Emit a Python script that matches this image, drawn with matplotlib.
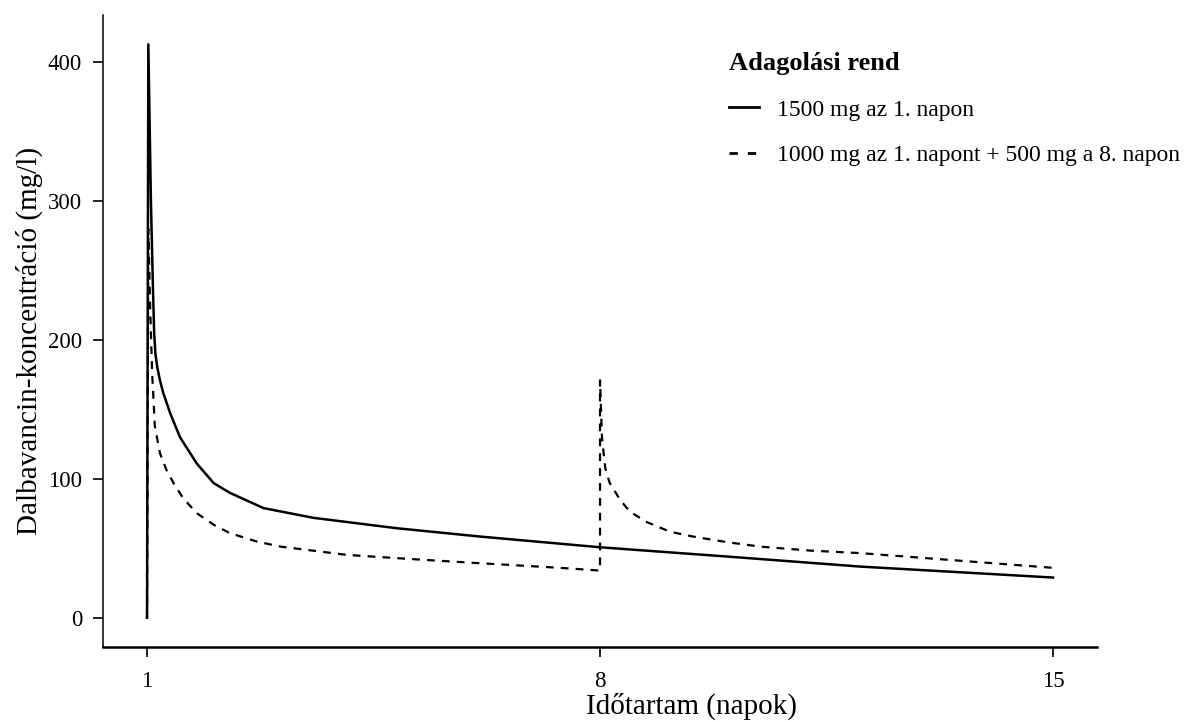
import matplotlib.pyplot as plt
from matplotlib.lines import Line2D

plt.rcParams['font.family'] = ['Liberation Serif', 'DejaVu Serif']

# Solid: 1500 mg on day 1
t_single = [1.0, 1.02, 1.06, 1.09, 1.11, 1.13, 1.16, 1.20, 1.25, 1.36, 1.51, 1.77, 2.03, 2.28,
            2.80, 3.57, 4.86, 6.15, 8.0, 10.0, 12.02, 15.0]
c_single = [0.0, 413.0, 300.0, 240.0, 205.0, 190.0, 180.0, 171.0, 162.0, 147.0, 130.0, 111.0,
            97.0, 90.0, 79.0, 72.0, 64.5, 58.5, 50.8, 44.0, 36.9, 29.0]

# Dashed: 1000 mg on day 1 + 500 mg on day 8
t_split = [1.0, 1.02, 1.05, 1.08, 1.10, 1.12, 1.20, 1.30, 1.41, 1.56, 1.77, 2.03, 2.28, 2.69,
           3.06, 4.09, 5.12, 6.15, 7.38, 7.85, 8.0,
           8.0, 8.03, 8.08, 8.15, 8.31, 8.46, 8.72, 9.08, 9.44, 9.96, 10.47, 11.25, 12.02, 15.0]
c_split = [0.0, 280.0, 220.0, 175.0, 157.0, 138.0, 118.5, 106.5, 97.0, 86.0, 75.3, 67.0, 61.0, 55.0,
           51.3, 45.3, 42.2, 39.3, 36.0, 34.5, 34.0,
           171.0, 130.0, 108.0, 97.0, 85.0, 76.5, 69.0, 62.0, 58.5, 54.5, 51.3, 48.4, 46.6, 36.0]

x_ticks = [1, 8, 15]
y_ticks = [0, 100, 200, 300, 400]

label_single = '1500 mg az 1. napon'
label_split = '1000 mg az 1. napont + 500 mg a 8. napon'

fig = plt.figure(figsize=(11.87, 7.22), dpi=100)
ax = fig.add_axes([0.0868, 0.1039, 0.8374, 0.8752])

ax.plot(t_single, c_single, color='black', linewidth=1.8, linestyle='-')
ax.plot(t_split, c_split, color='black', linewidth=1.6, linestyle=(0, (3.5, 3.2)))

ax.set_xlim(0.32, 15.68)
ax.set_ylim(-21, 434)
ax.set_xticks(x_ticks)
ax.set_yticks(y_ticks)
ax.tick_params(axis='both', labelsize=16.5, length=7, width=1.2, direction='out')
ax.tick_params(axis='x', pad=10)
ax.tick_params(axis='y', pad=8)

for side in ['top', 'right']:
    ax.spines[side].set_visible(False)
ax.spines['left'].set_linewidth(1.1)
ax.spines['bottom'].set_linewidth(1.8)

ax.set_xlabel('Időtartam (napok)', fontsize=21)
ax.xaxis.set_label_coords(0.592, -0.072)
ax.set_ylabel('Dalbavancin-koncentráció (mg/l)', fontsize=21)
ax.yaxis.set_label_coords(-0.060, 0.484)

handles = [
    Line2D([0], [0], color='black', linewidth=2.0, linestyle='-'),
    Line2D([0], [0], color='black', linewidth=2.0, linestyle=(0, (3, 3.6))),
]
leg = ax.legend(handles, [label_single, label_split], loc='upper left',
                bbox_to_anchor=(0.608, 0.975), frameon=False, fontsize=17,
                title='Adagolási rend', title_fontproperties={'weight': 'bold', 'size': 19},
                handlelength=1.3, handletextpad=0.75, labelspacing=1.02, alignment='left')

fig.savefig('out.png', dpi=100)
